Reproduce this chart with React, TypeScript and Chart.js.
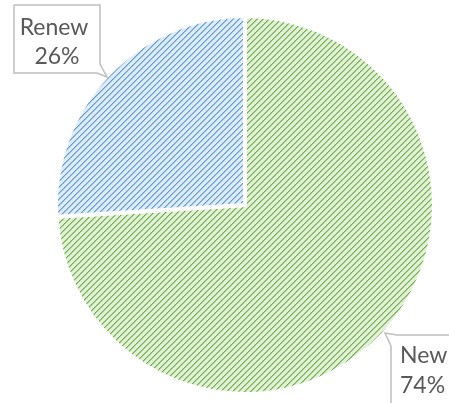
import React, { useEffect, useRef } from "react";
import { Chart, registerables } from "chart.js";

Chart.register(...registerables);

const categories = ["New", "Renew"];
const values = [74, 26];
const percentLabels = ["74%", "26%"];

function makePattern(bg: string, dark: string, mid: string): CanvasPattern | string {
  const tile = document.createElement("canvas");
  tile.width = 6;
  tile.height = 6;
  const c = tile.getContext("2d");
  if (!c) return bg;
  c.fillStyle = bg;
  c.fillRect(0, 0, 6, 6);
  for (let i = 0; i < 6; i++) {
    c.fillStyle = dark;
    c.fillRect(i, 5 - i, 1, 1);
    c.fillStyle = mid;
    c.fillRect(i, (6 - i) % 6, 1, 1);
  }
  const p = c.createPattern(tile, "repeat");
  return p || bg;
}

export default function App() {
  const ref = useRef<HTMLCanvasElement | null>(null);

  useEffect(() => {
    document.body.style.margin = "0";
    const canvas = ref.current;
    if (!canvas) return;
    const green = makePattern("#e2f0d9", "#70ad47", "#a9d18e");
    const blue = makePattern("#deebf7", "#5b9bd5", "#9dc3e6");

    const calloutPlugin = {
      id: "callouts",
      afterDraw(chart: any) {
        const ctx = chart.ctx as CanvasRenderingContext2D;
        ctx.save();
        ctx.strokeStyle = "#bfbfbf";
        ctx.lineWidth = 1.5;
        ctx.fillStyle = "#ffffff";
        // Renew callout
        ctx.beginPath();
        ctx.moveTo(14, 5);
        ctx.lineTo(100, 5);
        ctx.lineTo(100, 64);
        ctx.lineTo(107, 77);
        ctx.lineTo(97, 73);
        ctx.lineTo(14, 73);
        ctx.closePath();
        ctx.fill();
        ctx.stroke();
        // New callout
        ctx.beginPath();
        ctx.moveTo(391, 420);
        ctx.lineTo(391, 346);
        ctx.lineTo(385, 333);
        ctx.lineTo(397, 335);
        ctx.lineTo(470, 335);
        ctx.lineTo(470, 420);
        ctx.closePath();
        ctx.fill();
        ctx.stroke();

        ctx.fillStyle = "#595959";
        ctx.font = "23px Lato";
        ctx.textBaseline = "middle";
        ctx.textAlign = "center";
        ctx.fillText(categories[1], 54, 28);
        ctx.fillText(percentLabels[1], 57, 57);
        ctx.textAlign = "left";
        ctx.fillText(categories[0], 400, 356);
        ctx.fillText(percentLabels[0], 400, 386);
        ctx.restore();
      },
    };

    const chart = new Chart(canvas, {
      type: "pie",
      data: {
        labels: categories,
        datasets: [
          {
            data: values,
            backgroundColor: [green, blue] as any,
            borderColor: "#ffffff",
            borderWidth: 4,
          },
        ],
      },
      options: {
        responsive: false,
        animation: false,
        devicePixelRatio: 1,
        layout: { padding: { left: 54, right: 13, top: 14, bottom: 7 } },
        plugins: {
          legend: { display: false },
          tooltip: { enabled: false },
        },
      },
      plugins: [calloutPlugin],
    });
    return () => chart.destroy();
  }, []);

  return (
    <div style={{ position: "fixed", left: 0, top: 0, width: 449, height: 403, background: "#fff" }}>
      <canvas ref={ref} width={449} height={403} />
    </div>
  );
}
